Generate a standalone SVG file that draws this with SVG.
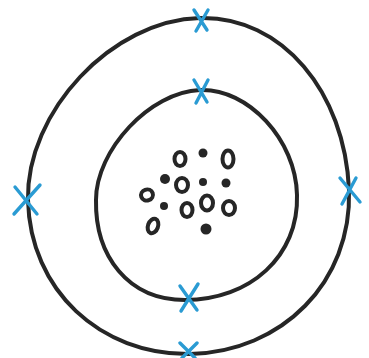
<svg xmlns="http://www.w3.org/2000/svg" width="369" height="358" viewBox="0 0 369 358">
<style>
.shell{fill:none;stroke:#262626;stroke-width:4;stroke-linecap:round}
.p{fill:none;stroke:#262626;stroke-width:4}
.d{fill:#262626}
.x{stroke:#2a9bd3;stroke-width:3.4;stroke-linecap:round;fill:none}
</style>
<rect width="369" height="358" fill="#fff"/>
<g id="outer-shell">
<path class="shell" d="M200,18 C282,16 345,92 349,190 C352,282 282,352 190,354 C100,355 30,290 28,200 C26,112 112,20 200,18 Z"/>
</g>
<g id="inner-shell">
<path class="shell" d="M200,90 C248,88 296,140 297,195 C299,256 250,300 185,300 C128,300 95,256 96,200 C96,150 150,92 200,90 Z"/>
</g>
<g id="nucleus">
<ellipse class="p" cx="180" cy="159" rx="5.5" ry="7"/>
<circle class="d" cx="203" cy="153" r="4.5"/>
<ellipse class="p" cx="228" cy="159" rx="5.5" ry="8.5"/>
<circle class="d" cx="165" cy="179" r="5"/>
<ellipse class="p" cx="182" cy="185" rx="6" ry="7"/>
<circle class="d" cx="203" cy="182" r="4"/>
<circle class="d" cx="226" cy="183" r="4.5"/>
<ellipse class="p" cx="147" cy="195" rx="6" ry="5.5" transform="rotate(-20 147 195)"/>
<circle class="d" cx="164" cy="206" r="4"/>
<ellipse class="p" cx="187" cy="210" rx="5.5" ry="7"/>
<ellipse class="p" cx="207" cy="203" rx="6" ry="7.5"/>
<ellipse class="p" cx="229" cy="208" rx="6" ry="7"/>
<ellipse class="p" cx="153" cy="226" rx="5" ry="7.5" transform="rotate(20 153 226)"/>
<circle class="d" cx="206" cy="229" r="5.5"/>
</g>
<g id="electrons">
<path class="x" d="M194,10 L207,30 M208,10 L196,31"/>
<path class="x" d="M194,80 L207,102 M208,80 L196,103"/>
<path class="x" d="M15,187 L37,214 M40,185 L14,214"/>
<path class="x" d="M340,178 L360,202 M356,178 L342,204"/>
<path class="x" d="M180,286 L197,310 M198,284 L181,311"/>
<path class="x" d="M180,343 L195,358 M197,343 L182,358"/>
</g>
</svg>
